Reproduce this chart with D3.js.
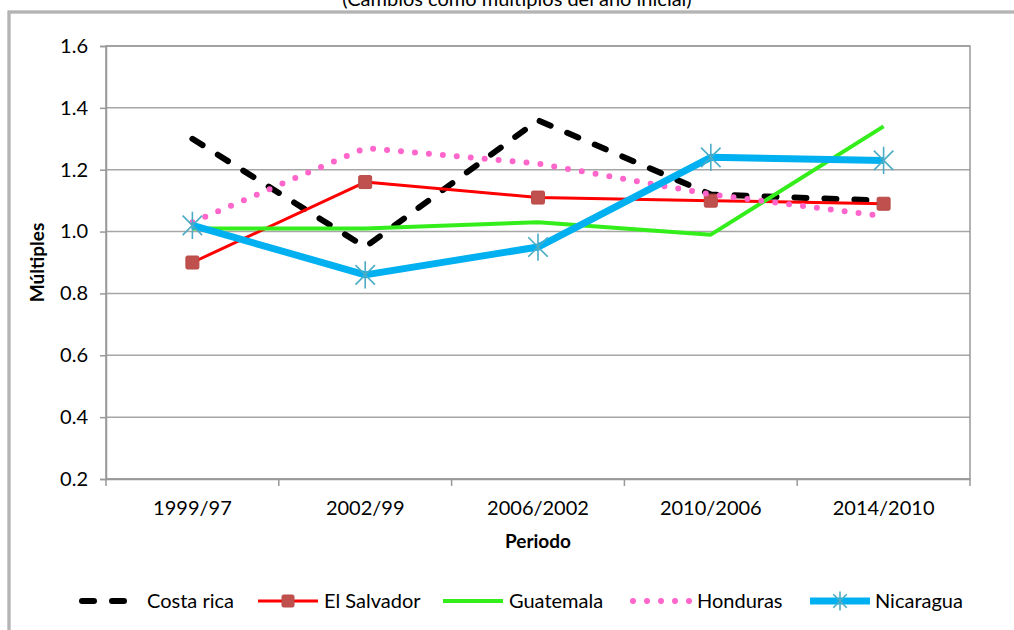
<!DOCTYPE html>
<html>
<head>
<meta charset="utf-8">
<script src="https://cdn.jsdelivr.net/npm/d3@7"></script>
<style>
  html, body { margin: 0; padding: 0; background: #fff; }
  svg { display: block; font-family: Lato, "Open Sans", sans-serif; }
</style>
</head>
<body>
<div id="app"></div>
<script>
// periods on the x axis
const periods = ["1999/97", "2002/99", "2006/2002", "2010/2006", "2014/2010"];
const yTicks = [0.2, 0.4, 0.6, 0.8, 1.0, 1.2, 1.4, 1.6];

// multiples per country
const costaRica = [1.30, 0.95, 1.36, 1.12, 1.10];
const elSalvador = [0.90, 1.16, 1.11, 1.10, 1.09];
const guatemala = [1.01, 1.01, 1.03, 0.99, 1.34];
const honduras = [1.03, 1.27, 1.22, 1.12, 1.05];
const nicaragua = [1.02, 0.86, 0.95, 1.24, 1.23];

const series = [
  { name: "Costa rica", values: costaRica, color: "#000", width: 6, dash: "12,18", cap: "round" },
  { name: "El Salvador", values: elSalvador, color: "#ff0000", width: 3, marker: "square" },
  { name: "Guatemala", values: guatemala, color: "#33ee1a", width: 4 },
  { name: "Honduras", values: honduras, color: "#ff66cc", width: 6, dash: "0,14", cap: "round" },
  { name: "Nicaragua", values: nicaragua, color: "#00b0f0", width: 7, marker: "star" }
];

const W = 1014, H = 630;
const plot = { left: 106, right: 970, top: 46, bottom: 479 };

const svg = d3.select("#app").append("svg").attr("width", W).attr("height", H);

// outer chart frame (runs off the right/bottom of the picture)
svg.append("rect")
  .attr("x", 9).attr("y", 12).attr("width", W + 20).attr("height", H + 20)
  .attr("fill", "none").attr("stroke", "#999").attr("stroke-width", 3);
svg.append("rect")
  .attr("x", 9).attr("y", 12).attr("width", W + 20).attr("height", H + 20)
  .attr("fill", "none").attr("stroke", "#ddd").attr("stroke-width", 0.8);

// subtitle, clipped at the top edge as in the source
svg.append("text")
  .attr("x", 517).attr("y", 6)
  .attr("text-anchor", "middle")
  .attr("font-size", 20)
  .attr("fill", "#000")
  .text("(Cambios como múltiplos del año inicial)");

const x = d3.scaleBand().domain(periods).range([plot.left, plot.right]);
const y = d3.scaleLinear().domain([0.2, 1.6]).range([plot.bottom, plot.top]);

// gridlines
svg.append("g")
  .selectAll("line")
  .data(yTicks)
  .join("line")
  .attr("x1", plot.left).attr("x2", plot.right)
  .attr("y1", (d) => y(d)).attr("y2", (d) => y(d))
  .attr("stroke", "#a6a6a6").attr("stroke-width", 1.5);

// plot border
svg.append("rect")
  .attr("x", plot.left).attr("y", plot.top)
  .attr("width", plot.right - plot.left).attr("height", plot.bottom - plot.top)
  .attr("fill", "none").attr("stroke", "#999").attr("stroke-width", 1.5);

// y axis
const yAxis = svg.append("g")
  .attr("transform", `translate(${plot.left},0)`)
  .call(d3.axisLeft(y).tickValues(yTicks).tickFormat(d3.format(".1f")).tickSize(6).tickPadding(12));
yAxis.select(".domain").attr("stroke", "#999").attr("stroke-width", 1.5);
yAxis.selectAll(".tick line").attr("stroke", "#999").attr("stroke-width", 1.5);
yAxis.selectAll("text").attr("font-size", 20).attr("fill", "#000").attr("font-family", "Lato");

// x axis
const xAxis = svg.append("g")
  .attr("transform", `translate(0,${plot.bottom})`)
  .call(d3.axisBottom(x).tickSize(0).tickPadding(22));
xAxis.select(".domain").attr("stroke", "#999").attr("stroke-width", 1.5);
xAxis.selectAll("text").attr("font-size", 20).attr("fill", "#000").attr("font-family", "Lato");
xAxis.selectAll(".sep")
  .data(d3.range(periods.length + 1))
  .join("line")
  .attr("class", "sep")
  .attr("x1", (i) => plot.left + i * x.step())
  .attr("x2", (i) => plot.left + i * x.step())
  .attr("y1", 0).attr("y2", 7)
  .attr("stroke", "#999").attr("stroke-width", 1.5);

// axis titles
svg.append("text")
  .attr("x", (plot.left + plot.right) / 2).attr("y", 548)
  .attr("text-anchor", "middle")
  .attr("font-size", 19).attr("font-weight", "bold")
  .text("Periodo");
svg.append("text")
  .attr("transform", `translate(44,${y(0.9)}) rotate(-90)`)
  .attr("text-anchor", "middle")
  .attr("font-size", 19).attr("font-weight", "bold")
  .text("Múltiples");

const cx = (i) => x(periods[i]) + x.bandwidth() / 2;

const line = d3.line()
  .x((d, i) => cx(i))
  .y((d) => y(d));

function starPath(s) {
  return `M${-s},${-s}L${s},${s}M${-s},${s}L${s},${-s}M0,${-s * 1.4}L0,${s * 1.4}`;
}

function drawMarker(g, type, px, py, size) {
  if (type === "square") {
    const h = size / 2;
    g.append("rect")
      .attr("x", px - h).attr("y", py - h).attr("width", size).attr("height", size)
      .attr("rx", 1.5)
      .attr("fill", "#c0504d").attr("stroke", "#b84a47").attr("stroke-width", 1);
  } else if (type === "star") {
    g.append("path")
      .attr("transform", `translate(${px},${py})`)
      .attr("d", starPath(size * 0.75))
      .attr("stroke", "#4bacc6").attr("stroke-width", 1.6).attr("fill", "none");
  }
}

const lines = svg.append("g");
series.forEach((s) => {
  const g = lines.append("g");
  g.append("path")
    .datum(s.values)
    .attr("d", line)
    .attr("fill", "none")
    .attr("stroke", s.color)
    .attr("stroke-width", s.width)
    .attr("stroke-linejoin", "round")
    .attr("stroke-linecap", s.cap || "butt")
    .attr("stroke-dasharray", s.dash || null);
  if (s.marker) {
    s.values.forEach((v, i) => drawMarker(g, s.marker, cx(i), y(v), 13));
  }
});

// legend
const legendItems = [
  { lx: 82, tx: 147 },
  { lx: 258, tx: 324 },
  { lx: 443, tx: 509 },
  { lx: 633, tx: 697 },
  { lx: 810, tx: 875 }
];
const ly = 601;
const legend = svg.append("g");
series.forEach((s, i) => {
  const pos = legendItems[i];
  const g = legend.append("g");
  g.append("line")
    .attr("x1", pos.lx).attr("x2", pos.lx + 60)
    .attr("y1", ly).attr("y2", ly)
    .attr("stroke", s.color)
    .attr("stroke-width", s.width)
    .attr("stroke-linecap", s.cap || "butt")
    .attr("stroke-dasharray", s.dash || null);
  if (s.marker) drawMarker(g, s.marker, pos.lx + 30, ly, s.marker === "square" ? 12 : 9);
  g.append("text")
    .attr("x", pos.tx).attr("y", ly)
    .attr("dy", "0.35em")
    .attr("font-size", 20)
    .text(s.name);
});
</script>
</body>
</html>
